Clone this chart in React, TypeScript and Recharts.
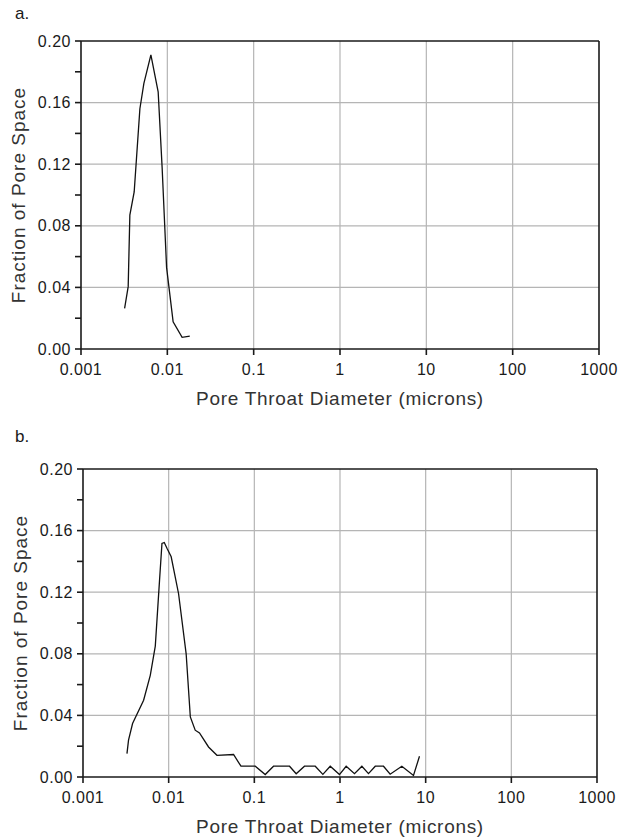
import { LineChart, Line, XAxis, YAxis, CartesianGrid, ReferenceLine } from "recharts";

// panel a: pore throat diameter (microns) vs fraction of pore space
const diamA = [0.0032, 0.00352, 0.00368, 0.00413, 0.00481, 0.00535, 0.00645, 0.00783, 0.0087, 0.0098, 0.01167, 0.01483, 0.0182];
const fracA = [0.0264, 0.0405, 0.087, 0.102, 0.156, 0.1725, 0.191, 0.167, 0.118, 0.053, 0.0177, 0.0076, 0.0084];

// panel b
const diamB = [
  0.00326, 0.0034, 0.00379, 0.0051, 0.0061, 0.00698, 0.00783, 0.00835, 0.00889, 0.00955, 0.0107, 0.01305, 0.016,
  0.0179, 0.0204, 0.0229, 0.0292, 0.0366, 0.0572, 0.0698, 0.1025, 0.134, 0.1675, 0.2575, 0.308, 0.385, 0.514,
  0.631, 0.769, 0.986, 1.18, 1.476, 1.8, 2.15, 2.58, 3.22, 3.85, 5.27, 7.21, 8.47,
];
const fracB = [
  0.0152, 0.0239, 0.0347, 0.0499, 0.066, 0.085, 0.128, 0.1517, 0.1523, 0.1485, 0.143, 0.119, 0.08,
  0.039, 0.0304, 0.0286, 0.0195, 0.0141, 0.0146, 0.007, 0.007, 0.0016, 0.007, 0.007, 0.0021, 0.007, 0.007,
  0.0017, 0.007, 0.0016, 0.007, 0.0022, 0.007, 0.0022, 0.007, 0.007, 0.0018, 0.007, 0.001, 0.0135,
];

const xTicks = [0.001, 0.01, 0.1, 1, 10, 100, 1000];
const yTicks = [0, 0.02, 0.04, 0.06, 0.08, 0.1, 0.12, 0.14, 0.16, 0.18, 0.2];
const gridY = [0.04, 0.08, 0.12, 0.16];
const gridX = [0.01, 0.1, 1, 10, 100];

const dataA = diamA.map((d, i) => ({ d, f: fracA[i] }));
const dataB = diamB.map((d, i) => ({ d, f: fracB[i] }));

const font = "'Liberation Sans', Arial, sans-serif";
const ink = "#1a1a1a";
const gridStroke = "#b5b5b5";

function fmtY(v: number) {
  return Math.round(v * 100) % 4 === 0 ? v.toFixed(2) : "";
}

function Panel({ data, letter, letterTop, margin }: { data: { d: number; f: number }[]; letter: string; letterTop: number; margin: any }) {
  return (
    <div style={{ position: "relative", width: 621, height: 420 }}>
      <div style={{ position: "absolute", left: 15, top: letterTop, fontFamily: font, fontSize: 17, color: ink }}>
        {letter}
      </div>
      <LineChart width={621} height={420} data={data} margin={margin}>
        <CartesianGrid stroke={gridStroke} strokeWidth={1.2} horizontalValues={gridY} verticalValues={gridX} />
        <XAxis
          dataKey="d"
          type="number"
          scale="log"
          domain={[0.001, 1000]}
          ticks={xTicks}
          allowDataOverflow
          height={60}
          stroke={ink}
          strokeWidth={1.6}
          tickSize={6}
          tickMargin={9}
          tick={{ fill: ink, fontSize: 16, fontFamily: font, letterSpacing: 0.5 }}
          label={{ value: "Pore Throat Diameter (microns)", position: "insideBottom", offset: 4, fill: "#333", fontSize: 19, fontFamily: font, letterSpacing: 0.7 }}
        />
        <YAxis
          dataKey="f"
          type="number"
          domain={[0, 0.2]}
          ticks={yTicks}
          interval={0}
          width={75}
          stroke={ink}
          strokeWidth={1.6}
          tickSize={6}
          tickMargin={4}
          tickFormatter={fmtY}
          tick={{ fill: ink, fontSize: 16, fontFamily: font, letterSpacing: 0.5 }}
          label={{ value: "Fraction of Pore Space", angle: -90, position: "insideLeft", offset: 12, fill: "#333", fontSize: 19, fontFamily: font, letterSpacing: 1, style: { textAnchor: "middle" } }}
        />
        <ReferenceLine y={0.2} stroke={ink} strokeWidth={1.6} />
        <ReferenceLine x={1000} stroke={ink} strokeWidth={1.6} />
        <Line type="linear" dataKey="f" stroke="#111" strokeWidth={1.3} dot={false} isAnimationActive={false} />
      </LineChart>
    </div>
  );
}

export default function App() {
  return (
    <div style={{ position: "absolute", left: 0, top: 0, width: 621, height: 840, background: "#fff" }}>
      <Panel data={dataA} letter="a." letterTop={4} margin={{ top: 41, right: 22, bottom: 11, left: 6 }} />
      <Panel data={dataB} letter="b." letterTop={7} margin={{ top: 49, right: 24, bottom: 3, left: 8 }} />
    </div>
  );
}
